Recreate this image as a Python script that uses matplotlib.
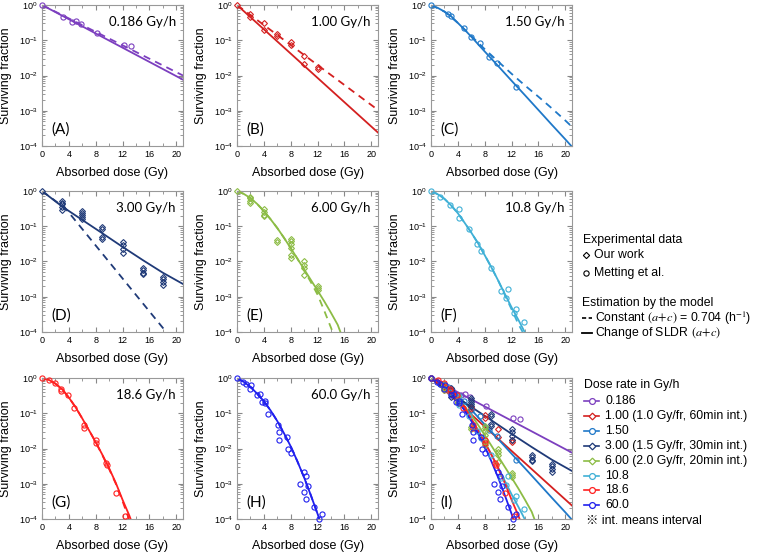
import matplotlib
matplotlib.use("Agg")
import matplotlib.pyplot as plt
from matplotlib.ticker import LogLocator, MultipleLocator, NullFormatter

plt.rcParams['font.family'] = ['Liberation Sans', 'DejaVu Sans']

# colours per dose rate
COL_A = "#7c3fbf"
COL_B = "#d42020"
COL_C = "#1f78c8"
COL_D = "#1f3a78"
COL_E = "#8cbc45"
COL_F = "#3fb0d6"
COL_G = "#ff2020"
COL_H = "#2020ee"

# ---- experimental data ----
dose_a = [0, 3.2, 4.4, 5.0, 5.8, 8.2, 12.2, 13.3]
sf_a = [1.0, 0.47, 0.34, 0.36, 0.29, 0.16, 0.075, 0.068]

dose_b = [0, 2, 2, 4, 4, 6, 6, 8, 8, 10, 10, 12, 12]
sf_b = [1.0, 0.56, 0.47, 0.30, 0.19, 0.15, 0.135, 0.088, 0.074, 0.035, 0.021, 0.017, 0.015]

dose_c = [0, 2.6, 3.0, 4.9, 6.0, 7.3, 8.7, 9.9, 12.6]
sf_c = [1.0, 0.55, 0.50, 0.22, 0.126, 0.081, 0.034, 0.023, 0.0046]

dose_d = [0, 3, 3, 3, 3, 3, 6, 6, 6, 6, 6, 9, 9, 9, 9,
          12, 12, 12, 12, 15, 15, 15, 15, 18, 18, 18, 18]
sf_d = [1.0, 0.52, 0.47, 0.42, 0.35, 0.29, 0.27, 0.24, 0.21, 0.18, 0.16,
        0.093, 0.085, 0.049, 0.044, 0.035, 0.030, 0.023, 0.018,
        0.0066, 0.0056, 0.0048, 0.0045, 0.0036, 0.0032, 0.0026, 0.0022]

dose_e = [0, 2, 2, 2, 2, 4, 4, 4, 4, 6, 6, 8, 8, 8, 8, 8, 8,
          10, 10, 10, 10, 12, 12, 12]
sf_e = [1.0, 0.69, 0.62, 0.53, 0.45, 0.30, 0.26, 0.21, 0.19, 0.041, 0.035,
        0.043, 0.037, 0.031, 0.024, 0.015, 0.0125,
        0.010, 0.0081, 0.0065, 0.0042, 0.0020, 0.0018, 0.0016]

dose_f = [0, 1.4, 2.8, 4.1, 4.2, 5.6, 6.8, 7.5, 8.9, 10.4, 11.4, 11.1, 12.7, 12.3, 13.9]
sf_f = [1.0, 0.66, 0.40, 0.30, 0.17, 0.082, 0.032, 0.020, 0.0065,
        1.5e-3, 1.7e-3, 9e-4, 4.5e-4, 3.4e-4, 1.9e-4]

dose_g = [0, 1.0, 1.9, 2.9, 2.9, 3.9, 4.7, 6.3, 6.3, 8.0, 8.0, 9.5, 9.7, 11.0, 12.4]
sf_g = [1.0, 0.9, 0.72, 0.50, 0.43, 0.32, 0.14, 0.046, 0.037, 0.017, 0.014,
        0.0040, 0.0035, 5.6e-4, 1.25e-4]

dose_h = [0, 0.9, 1.4, 2.0, 2.1, 3.0, 3.4, 3.7, 4.2, 4.2, 4.6, 6.1, 6.3, 6.3,
          7.4, 7.6, 8.1, 9.4, 10.0, 10.3, 10.5, 10.0, 10.3, 11.4, 12.2, 12.7]
sf_h = [1.0, 0.77, 0.66, 0.50, 0.65, 0.32, 0.35, 0.21, 0.19, 0.22, 0.098,
        0.046, 0.030, 0.018, 0.021, 0.0094, 0.0076, 1.0e-3, 2.2e-3, 1.7e-3,
        8.5e-4, 5.9e-4, 3.8e-4, 2.2e-4, 1.0e-4, 1.4e-4]

# ---- model curves: change of SLDR (solid) and constant (dashed) ----
fit_x_a = [0, 21]
fit_a = [1.0, 7.6e-3]
const_x_a = [0, 21]
const_a = [1.0, 1.0e-2]

fit_x_b = [0, 21]
fit_b = [1.0, 2.4e-4]
const_x_b = [0, 21]
const_b = [1.0, 1.05e-3]

fit_x_c = [0, 1, 2, 3, 4, 5, 6, 8, 10, 12, 14, 16, 18, 20, 21]
fit_c = [1.0, 0.83, 0.65, 0.48, 0.31, 0.20, 0.126, 0.048, 0.0186, 0.0071,
         2.75e-3, 1.05e-3, 4.0e-4, 1.55e-4, 9.5e-5]
const_x_c = [0, 2, 4, 6, 8, 10, 12, 14, 16, 18, 20, 21]
const_c = [1.0, 0.65, 0.31, 0.132, 0.056, 0.025, 0.0112, 5.2e-3, 2.5e-3,
           1.17e-3, 5.3e-4, 3.5e-4]

fit_x_d = [0, 3, 6, 9, 12, 15, 18, 21]
fit_d = [1.0, 0.363, 0.151, 0.063, 0.026, 0.011, 0.0048, 0.0023]
const_x_d = [0, 3.5, 18.5]
const_d = [1.0, 0.32, 1.0e-4]

fit_x_e = [0, 1, 2, 3, 4, 5, 6, 7, 8, 9, 10, 11, 12, 13, 14, 15, 15.4]
fit_e = [1.0, 0.83, 0.63, 0.43, 0.27, 0.158, 0.089, 0.047, 0.024, 0.012,
         6.0e-3, 3.0e-3, 1.5e-3, 7.4e-4, 3.5e-4, 1.6e-4, 1.0e-4]
const_x_e = [0, 1, 2, 3, 4, 5, 6, 7, 8, 9, 10, 11, 12, 13, 14.25]
const_e = [1.0, 0.83, 0.63, 0.43, 0.27, 0.158, 0.089, 0.047, 0.024, 0.012,
           5.6e-3, 2.6e-3, 1.15e-3, 4.0e-4, 1.0e-4]

fit_x_f = [0, 1, 2, 3, 4, 5, 6, 7, 8, 9, 10, 11, 12, 13, 13.95]
fit_f = [1.0, 0.81, 0.60, 0.39, 0.234, 0.126, 0.066, 0.033, 0.0151, 6.8e-3,
         2.9e-3, 1.2e-3, 5.0e-4, 2.24e-4, 1.0e-4]
const_x_f = [0, 1, 2, 3, 4, 5, 6, 7, 8, 9, 10, 11, 12, 13, 13.65]
const_f = [1.0, 0.81, 0.60, 0.39, 0.234, 0.126, 0.066, 0.033, 0.0151, 6.8e-3,
           2.9e-3, 1.12e-3, 4.4e-4, 1.7e-4, 1.0e-4]

fit_x_g = [0, 1, 2, 3, 4, 5, 6, 7, 8, 9, 10, 11, 12, 13, 13.2]
fit_g = [1.0, 0.89, 0.69, 0.48, 0.28, 0.148, 0.071, 0.033, 0.0151, 6.6e-3,
         2.75e-3, 1.05e-3, 3.5e-4, 1.26e-4, 1.0e-4]
const_x_g = [0, 1, 2, 3, 4, 5, 6, 7, 8, 9, 10, 11, 12, 12.95]
const_g = [1.0, 0.89, 0.69, 0.48, 0.28, 0.148, 0.071, 0.033, 0.0151, 6.4e-3,
           2.6e-3, 1.0e-3, 3.2e-4, 1.0e-4]

fit_x_h = [0, 1, 2, 3, 4, 5, 6, 7, 8, 9, 10, 11, 12, 12.25]
fit_h = [1.0, 0.78, 0.56, 0.36, 0.22, 0.12, 0.060, 0.027, 0.0115, 4.3e-3,
         1.5e-3, 4.7e-4, 1.4e-4, 1.0e-4]
const_x_h = fit_x_h
const_h = fit_h

# panel order
panels = [
    ("(A)", "0.186 Gy/h", COL_A, "o", dose_a, sf_a, fit_x_a, fit_a, const_x_a, const_a),
    ("(B)", "1.00 Gy/h", COL_B, "D", dose_b, sf_b, fit_x_b, fit_b, const_x_b, const_b),
    ("(C)", "1.50 Gy/h", COL_C, "o", dose_c, sf_c, fit_x_c, fit_c, const_x_c, const_c),
    ("(D)", "3.00 Gy/h", COL_D, "D", dose_d, sf_d, fit_x_d, fit_d, const_x_d, const_d),
    ("(E)", "6.00 Gy/h", COL_E, "D", dose_e, sf_e, fit_x_e, fit_e, const_x_e, const_e),
    ("(F)", "10.8 Gy/h", COL_F, "o", dose_f, sf_f, fit_x_f, fit_f, const_x_f, const_f),
    ("(G)", "18.6 Gy/h", COL_G, "o", dose_g, sf_g, fit_x_g, fit_g, const_x_g, const_g),
    ("(H)", "60.0 Gy/h", COL_H, "o", dose_h, sf_h, fit_x_h, fit_h, const_x_h, const_h),
]

legend_labels = ["0.186", "1.00 (1.0 Gy/fr, 60min int.)", "1.50",
                 "3.00 (1.5 Gy/fr, 30min int.)", "6.00 (2.0 Gy/fr, 20min int.)",
                 "10.8", "18.6", "60.0"]

W, H = 760, 557
fig = plt.figure(figsize=(7.6, 5.57), dpi=100)

col_left = [42, 237, 431]
row_top = [5, 191, 378]
AW, AH = 141, 141


def make_ax(r, c):
    ax = fig.add_axes([col_left[c] / W, 1 - (row_top[r] + AH) / H, AW / W, AH / H])
    ax.set_yscale("log")
    ax.set_xlim(0, 21)
    ax.set_ylim(1e-4, 1)
    ax.xaxis.set_major_locator(MultipleLocator(4))
    ax.xaxis.set_minor_locator(MultipleLocator(2))
    ax.yaxis.set_major_locator(LogLocator(base=10, numticks=10))
    ax.yaxis.set_minor_locator(LogLocator(base=10, subs=range(2, 10), numticks=10))
    ax.yaxis.set_minor_formatter(NullFormatter())
    ax.tick_params(which="both", direction="in", top=True, right=True,
                   labelsize=6.5, color="#888888", pad=3)
    ax.tick_params(which="major", length=3.5)
    ax.tick_params(which="minor", length=2)
    for sp in ax.spines.values():
        sp.set_color("#999999")
        sp.set_linewidth(0.8)
    ax.set_xlabel("Absorbed dose (Gy)", fontsize=9)
    ax.set_ylabel("Surviving fraction", fontsize=9)
    ax.xaxis.set_label_coords(0.5, -0.15)
    ax.yaxis.set_label_coords(-0.21, 0.5)
    return ax


def marks(ax, dx, dy, m, col):
    ax.plot(dx, dy, marker=m, color=col, linestyle="none", markerfacecolor="none",
            markeredgewidth=0.8, markersize=3.0 if m == "D" else 3.7,
            clip_on=False, zorder=3)


for i, (lab, rate, col, m, dx, dy, fx, fy, cx, cy) in enumerate(panels):
    ax = make_ax(i // 3, i % 3)
    ax.plot(cx, cy, color=col, lw=1.3, ls=(0, (4, 3)))
    ax.plot(fx, fy, color=col, lw=1.3)
    marks(ax, dx, dy, m, col)
    ax.text(0.95, 0.88, rate, transform=ax.transAxes, ha="right", va="center",
            fontsize=9.5, family=["Lato", "DejaVu Sans"])
    ax.text(0.07, 0.12, lab, transform=ax.transAxes, ha="left", va="center",
            fontsize=11, family=["Lato", "DejaVu Sans"])

# panel I: everything together
ax = make_ax(2, 2)
for lab, rate, col, m, dx, dy, fx, fy, cx, cy in panels:
    ax.plot(fx, fy, color=col, lw=1.3)
    marks(ax, dx, dy, m, col)
ax.text(0.07, 0.12, "(I)", transform=ax.transAxes, ha="left", va="center",
        fontsize=11, family=["Lato", "DejaVu Sans"])

# legend area drawn in pixel coordinates
lg = fig.add_axes([0, 0, 1, 1])
lg.set_xlim(0, W)
lg.set_ylim(H, 0)
lg.axis("off")
fs = 8.8
lg.text(583, 240, "Experimental data", fontsize=fs, va="center")
lg.plot([586], [255], marker="D", ms=3.2, mfc="none", mec="black", mew=0.8)
lg.text(594, 255, "Our work", fontsize=fs, va="center")
lg.plot([586], [273], marker="o", ms=3.8, mfc="none", mec="black", mew=0.8)
lg.text(594, 273, "Metting et al.", fontsize=fs, va="center")
lg.text(582, 303, "Estimation by the model", fontsize=fs, va="center")
lg.plot([582, 592], [318, 318], color="black", lw=1.2, ls=(0, (2.5, 1.5)))
lg.text(595, 318, r"Constant $(a\!+\!c)$ = 0.704 (h$^{-1}$)", fontsize=fs,
        va="center", math_fontfamily="stix")
lg.plot([582, 592], [333, 333], color="black", lw=1.3)
lg.text(595, 333, r"Change of SLDR $(a\!+\!c)$", fontsize=fs, va="center",
        math_fontfamily="stix")

lg.text(584, 385, "Dose rate in Gy/h", fontsize=fs, va="center")
ys = [401, 416, 431, 446, 461, 476, 490, 505]
for (lab, rate, col, m, *_), txt, yy in zip(panels, legend_labels, ys):
    lg.plot([584, 599], [yy, yy], color=col, lw=1.2)
    lg.plot([591.5], [yy], marker=m, ms=3.4 if m == "D" else 4.2, mfc="white",
            mec=col, mew=0.9)
    lg.text(605, yy, txt, fontsize=fs, va="center")
lg.text(586, 521, "※ int. means interval", fontsize=fs, va="center",
        family=["Liberation Sans", "Noto Sans CJK JP", "DejaVu Sans"])

fig.savefig("out.png", dpi=100)
